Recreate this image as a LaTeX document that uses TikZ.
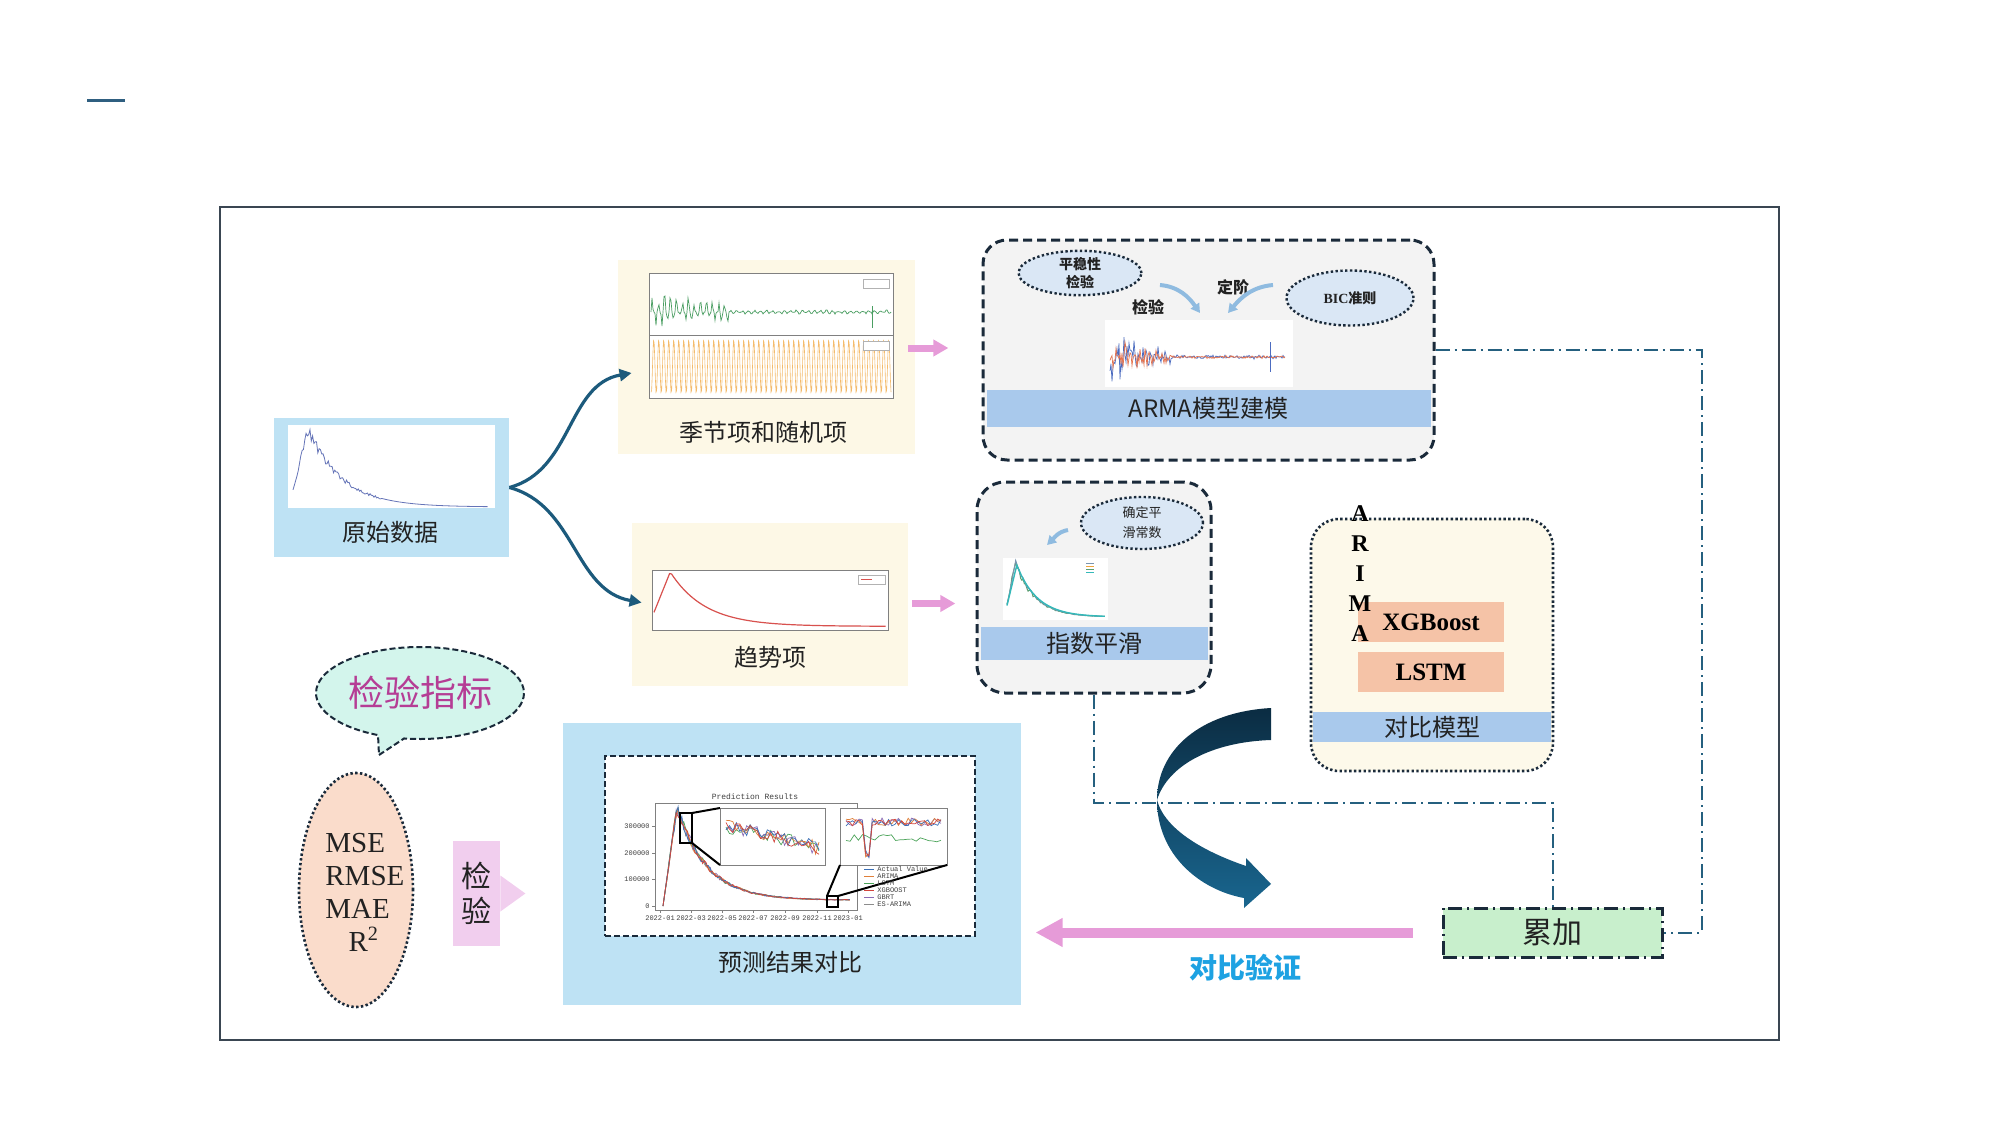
\documentclass[tikz,border=0pt]{standalone}
\usepackage{fontspec}
\setmainfont{Liberation Serif}
\newfontfamily\cjk{Noto Sans CJK SC}
\newfontfamily\mono{Liberation Mono}
\usetikzlibrary{arrows.meta, calc, shapes.geometric, shapes.callouts}
\definecolor{frameC}{HTML}{3A4652}
\definecolor{titleC}{HTML}{2F5F80}
\definecolor{skyC}{HTML}{BEE2F4}
\definecolor{creamC}{HTML}{FDF8E6}
\definecolor{greyC}{HTML}{F3F3F3}
\definecolor{bandC}{HTML}{A9C9EC}
\definecolor{ovalC}{HTML}{DAE7F5}
\definecolor{paleC}{HTML}{FDF9EA}
\definecolor{salmonC}{HTML}{F5C3A7}
\definecolor{greenC}{HTML}{C8EFCC}
\definecolor{pinkC}{HTML}{E69BD8}
\definecolor{lilacC}{HTML}{F1CEEE}
\definecolor{mintC}{HTML}{D3F5EC}
\definecolor{peachC}{HTML}{FADCCB}
\definecolor{magC}{HTML}{B53D95}
\definecolor{cyanC}{HTML}{1EA2E2}
\definecolor{dashC}{HTML}{25607F}
\definecolor{navyC}{HTML}{1A2A3A}
\definecolor{linkC}{HTML}{1C5A7C}
\definecolor{softC}{HTML}{8FBBE0}
\definecolor{deepC}{HTML}{0B2C42}
\definecolor{oceanC}{HTML}{19668F}
\definecolor{textC}{HTML}{222222}
\definecolor{rawC}{HTML}{6574B8}
\definecolor{seaC}{HTML}{4A9E62}
\definecolor{orgC}{HTML}{F0A43A}
\definecolor{blueC}{HTML}{4C6CC0}
\definecolor{coralC}{HTML}{E5734E}
\definecolor{redC}{HTML}{D8514E}
\definecolor{esA}{HTML}{34B9B9}
\definecolor{esB}{HTML}{5E9E70}
\definecolor{esC}{HTML}{7B95B0}
\definecolor{prA}{HTML}{3B6FB6}
\definecolor{prB}{HTML}{E0803A}
\definecolor{prC}{HTML}{4CA45A}
\definecolor{prD}{HTML}{D2443C}
\definecolor{prE}{HTML}{8B6BB5}
\definecolor{prF}{HTML}{8C8C8C}
\tikzset{
  panel/.style={fill=#1, inner sep=0pt},
  roundbox/.style={draw=navyC, line width=1.5pt, dash pattern=on 4.5pt off 2.5pt, rounded corners=12pt, fill=greyC, inner sep=0pt},
  dotbox/.style={draw=navyC, line width=1.3pt, dash pattern=on 1.2pt off 1.2pt, rounded corners=14pt, fill=paleC, inner sep=0pt},
  bandbar/.style={fill=bandC, inner sep=0pt, text=textC, font=\cjk\fontsize{12}{14}\selectfont},
  oval/.style={ellipse, draw=navyC, line width=1.2pt, dash pattern=on 1.2pt off 1.2pt, fill=ovalC, inner sep=0pt, align=center, text=textC},
  lbl/.style={inner sep=0pt, text=textC, font=\cjk\fontsize{12}{14}\selectfont},
  tiny/.style={inner sep=0pt, text=black!75, font=\mono\fontsize{3.5}{4}\selectfont},
  link/.style={draw=linkC, line width=1.6pt, -{Triangle[length=6pt,width=6pt]}},
  flow/.style={draw=pinkC, line width=3.5pt, -{Triangle[length=7.5pt,width=8pt]}},
  hint/.style={draw=softC, line width=2pt, -{Triangle[length=4.5pt,width=5pt]}},
  chain/.style={draw=dashC, line width=1pt, dash pattern=on 7pt off 2.5pt on 1pt off 2.5pt}
}
\begin{document}
\begin{tikzpicture}[x=0.5pt, y=-0.5pt]
\useasboundingbox (0,0) rectangle (1999,1124);
\pgfmathsetseed{11}
\draw[titleC, line width=1.5pt] (87,100) -- (125,100);
\draw[frameC, line width=1pt] (220,207) rectangle (1779,1040);

\node[panel=skyC, minimum width=117.5pt, minimum height=69.5pt] (raw) at (391.5,487.5) {};
\node[panel=white, minimum width=103.5pt, minimum height=41.5pt] (rawplot) at (391.5,466.5) {};
\draw[rawC, line width=0.4pt] plot[domain=0:1, samples=150] ({293+195*\x}, {507-78*ifthenelse(\x<0.08, 0.22+0.78*\x/0.08, exp(-(\x-0.08)/0.17))*(1+0.1*rand*(\x<0.45))});
\node[lbl] at (390,532) {原始数据};

\node[panel=creamC, minimum width=148.5pt, minimum height=97pt] (season) at (766.5,357) {};
\draw[gray, line width=0.3pt, fill=white] (649,273) rectangle (893,398);
\draw[gray, line width=0.3pt] (649,335) -- (893,335);
\draw[seaC, line width=0.35pt] plot[domain=651:891, samples=241] (\x, {312+ifthenelse(\x<732, 22*(1-(\x-651)/150), 2.5)*sin(60*mod(\x,6))*(0.5+0.5*rand)});
\draw[seaC, line width=0.35pt] (872,306) -- (872,328);
\draw[orgC!75, line width=0.3pt] plot[domain=651:891, samples=385] (\x, {366.5+27*sin(72*mod(\x,5))});
\draw[gray!60, line width=0.2pt, fill=white] (863,279) rectangle (889,288);
\draw[gray!60, line width=0.2pt, fill=white] (863,341) rectangle (889,350);
\node[lbl] at (763,432) {季节项和随机项};

\node[panel=creamC, minimum width=138pt, minimum height=81.5pt] (trend) at (770,604.5) {};
\draw[gray, line width=0.3pt, fill=white] (652,570) rectangle (888,630);
\draw[redC, line width=0.6pt] plot[domain=0:1, samples=120] ({654+232*\x}, {628-56*ifthenelse(\x<0.07, 0.28+0.72*\x/0.07, 0.03+0.97*exp(-(\x-0.07)/0.15))});
\draw[gray!60, line width=0.2pt, fill=white] (858,575) rectangle (885,584);
\draw[redC, line width=0.3pt] (861,579.5) -- (872,579.5);
\node[lbl] at (770,657) {趋势项};

\node[roundbox, minimum width=225.5pt, minimum height=110pt] (arma) at (1208.5,350) {};
\node[bandbar, minimum width=222pt, minimum height=18.5pt] (armaband) at (1208.5,408.5) {ARMA模型建模};
\node[panel=white, minimum width=94pt, minimum height=33.5pt] (armaplot) at (1199,353.5) {};
\draw[blueC, line width=0.35pt] plot[domain=1110:1285, samples=176] (\x, {357+ifthenelse(\x<1172, 26*(1.15-(\x-1110)/70), 2.2)*sin(75*mod(\x,4.8))*rand});
\draw[coralC, line width=0.35pt] plot[domain=1110:1285, samples=176] (\x, {357+ifthenelse(\x<1172, 18*(1.15-(\x-1110)/70), 1.5)*sin(75*mod(\x+1.5,4.8))*rand});
\draw[blueC, line width=0.35pt] (1270,342) -- (1270,372);
\node[oval, minimum width=61.5pt, minimum height=21.5pt, font=\cjk\bfseries\fontsize{7}{9}\selectfont] (stab) at (1080,273) {平稳性\\检验};
\node[oval, minimum width=63.5pt, minimum height=27.5pt, font=\bfseries\fontsize{7}{9}\selectfont] (bic) at (1350,298) {BIC{\cjk\bfseries 准则}};
\node[inner sep=0pt, text=textC, font=\cjk\bfseries\fontsize{8}{9}\selectfont] (chktxt) at (1148,307) {检验};
\node[inner sep=0pt, text=textC, font=\cjk\bfseries\fontsize{8}{9}\selectfont] (ordtxt) at (1233,287) {定阶};
\coordinate (h1) at (1160,285);
\coordinate (h2) at (1273,285);
\draw[hint] (h1) to[out=-5, in=125] (1200,313);
\draw[hint] (h2) to[out=185, in=50] (1228,313);

\node[roundbox, rounded corners=14pt, minimum width=117pt, minimum height=105.5pt] (es) at (1094,587.5) {};
\node[bandbar, minimum width=113.5pt, minimum height=16.5pt] (esband) at (1094,643.5) {指数平滑};
\node[panel=white, minimum width=52.5pt, minimum height=31pt] (esplot) at (1055.5,589) {};
\draw[esB, line width=0.5pt] plot[domain=0:1, samples=80] ({1007+98*\x}, {617-55*ifthenelse(\x<0.08, 0.22+0.78*\x/0.08, exp(-(\x-0.08)/0.2))*(1+0.08*rand)});
\draw[esC, line width=0.5pt] plot[domain=0:1, samples=80] ({1007+98*\x}, {617-55*ifthenelse(\x<0.09, 0.22+0.78*\x/0.09, exp(-(\x-0.09)/0.2))*(1+0.05*rand)});
\draw[esA, line width=0.7pt] plot[domain=0:1, samples=80] ({1007+98*\x}, {617-52*ifthenelse(\x<0.1, 0.22+0.78*\x/0.1, exp(-(\x-0.1)/0.21))});
\foreach \c [count=\i] in {esC, orgC, esB, esA}
  \draw[\c, line width=0.3pt] (1086,{560+3*\i}) -- (1094,{560+3*\i});
\node[oval, minimum width=61pt, minimum height=26pt, font=\cjk\fontsize{6.5}{10}\selectfont] (alpha) at (1142,523) {确定平\\滑常数};
\coordinate (h3) at (1068,530);
\draw[hint] (h3) to[out=190, in=45] (1047,545);

\node[dotbox, minimum width=121pt, minimum height=126pt] (cmp) at (1432,645) {};
\node[bandbar, minimum width=119pt, minimum height=15pt] (cmpband) at (1432,727) {对比模型};
\node[panel=salmonC, minimum width=73pt, minimum height=20pt, font=\bfseries\fontsize{12.5}{14}\selectfont] (xgb) at (1431,622) {XGBoost};
\node[panel=salmonC, minimum width=73pt, minimum height=20pt, font=\bfseries\fontsize{12.5}{14}\selectfont] (lstm) at (1431,672) {LSTM};
\node[inner sep=0pt, align=center, font=\bfseries\fontsize{12}{15}\selectfont] (arima) at (1360,574) {A\\R\\I\\M\\A};

\node[panel=skyC, minimum width=229pt, minimum height=141pt] (pred) at (792,864) {};
\node[draw=navyC, dash pattern=on 3pt off 1.5pt, line width=0.9pt, fill=white, minimum width=185pt, minimum height=90pt, inner sep=0pt] (predplot) at (790,846) {};
\draw[gray, line width=0.3pt] (655,803) rectangle (857,910);
\foreach \c in {prF, prE, prC, prB, prA, prD}
  \draw[\c, line width=0.35pt] plot[domain=0:1, samples=100] ({663+187*\x}, {906-98*ifthenelse(\x<0.075, \x/0.075, 0.06+0.94*exp(-(\x-0.075)/0.16))*(1+0.07*rand)});
\foreach \v/\y in {300000/826, 200000/853, 100000/879, 0/906} {
  \draw[gray, line width=0.3pt] (652,\y) -- (655,\y);
  \node[tiny, anchor=east] at (650,\y) {\v};
}
\foreach \d/\xx in {2022-01/660, 2022-03/691, 2022-05/722, 2022-07/753, 2022-09/785, 2022-11/817, 2023-01/848} {
  \draw[gray, line width=0.3pt] (\xx,910) -- (\xx,913);
  \node[tiny] at (\xx,918) {\d};
}
\node[tiny, font=\mono\fontsize{4}{5}\selectfont] at (755,797) {Prediction Results};
\draw[gray, line width=0.3pt, fill=white] (720,808) rectangle (825,865);
\foreach \c in {prC, prE, prB, prA, prD}
  \draw[\c, line width=0.35pt] plot[domain=0:1, samples=28] ({726+93*\x}, {826+22*\x+7*rand});
\draw[gray, line width=0.3pt, fill=white] (840,808) rectangle (947,865);
\draw[prC, line width=0.35pt] plot[domain=0:1, samples=24] ({846+95*\x}, {838+4*rand});
\foreach \c in {prE, prB, prA, prD}
  \draw[\c, line width=0.35pt] plot[domain=0:1, samples=30] ({846+95*\x}, {822+4*rand+ifthenelse(abs(\x-0.22)<0.04, 32, 0)});
\draw[black, line width=1pt] (680,813) rectangle (692,843);
\draw[black, line width=1pt] (827,896) rectangle (838,907);
\draw[black, line width=1pt] (692,813) -- (720,808);
\draw[black, line width=1pt] (692,843) -- (720,865);
\draw[black, line width=1pt] (827,896) -- (840,865);
\draw[black, line width=1pt] (838,896) -- (947,865);
\foreach \c/\t [count=\i] in {prA/Actual Value, prB/ARIMA, prC/LSTM, prD/XGBOOST, prE/GBRT, prF/ES-ARIMA} {
  \draw[\c, line width=0.3pt] (864,{862+7*\i}) -- (874,{862+7*\i});
  \node[tiny, anchor=west] at (877,{862+7*\i}) {\t};
}
\node[lbl] at (790,962) {预测结果对比};

\coordinate (tail) at (379,755);
\node[ellipse callout, callout absolute pointer={(tail)}, draw=navyC, dash pattern=on 3pt off 1.5pt, line width=1pt, fill=mintC, minimum width=104pt, minimum height=46pt, inner sep=0pt, text=magC, font=\cjk\fontsize{18}{20}\selectfont] (idx) at (420,693) {检验指标};

\node[ellipse, draw=navyC, line width=1.3pt, dash pattern=on 1.2pt off 1.2pt, fill=peachC, minimum width=57pt, minimum height=117pt] (metric) at (356,890) {};
\node[inner sep=0pt, anchor=west, align=left, text=textC, font=\fontsize{14.5}{16.5}\selectfont] (metrictxt) at (325,892) {MSE\\RMSE\\MAE\\\hspace*{0.8em}R\textsuperscript{2}};

\node[panel=lilacC, minimum width=23.5pt, minimum height=52.5pt, align=center, text=textC, font=\cjk\fontsize{15}{17.5}\selectfont] (chk) at (476.5,893.5) {检\\验};
\fill[lilacC] ($(chk.east)+(0,-18)$) -- ($(chk.east)+(25,0)$) -- ($(chk.east)+(0,18)$) -- cycle;

\node[draw=navyC, line width=1.5pt, dash pattern=on 7pt off 2.5pt on 1pt off 2.5pt, fill=greenC, minimum width=109.5pt, minimum height=24.5pt, inner sep=0pt, text=textC, font=\cjk\fontsize{15}{16}\selectfont] (sum) at (1552.5,932.5) {累加};

\draw[link] (raw.east) to[out=15, in=190] ($(season.west)+(14,16)$);
\draw[link] (raw.east) to[out=-15, in=170] ($(trend.west)+(10,-2)$);
\draw[flow] ($(season.east)+(-7,-9)$) -- ++(40,0);
\draw[flow] ($(trend.east)+(4,-1)$) -- ++(43,0);
\draw[chain] (es.south) -- ++(0,108) -| (sum.north);
\draw[chain] (arma.east) -- ++(266,0) |- (sum.east);
\shade[top color=deepC, bottom color=oceanC] (1271,708) .. controls (1200,712) and (1157,750) .. (1157,800) .. controls (1157,855) and (1200,890) .. (1244,898) -- (1244,908) -- (1271,884) -- (1246,858) -- (1246,866) .. controls (1205,852) and (1165,830) .. (1157,800) .. controls (1168,765) and (1212,742) .. (1271,740) -- cycle;
\draw[flow, line width=5pt, -{Triangle[length=13.5pt,width=13.5pt]}] ($(sum.west)+(-29,0)$) -- ++(-377,0);
\node[inner sep=0pt, text=cyanC, font=\cjk\bfseries\fontsize{14}{16}\selectfont] (cmptxt) at (1245,968) {对比验证};
\end{tikzpicture}
\end{document}
